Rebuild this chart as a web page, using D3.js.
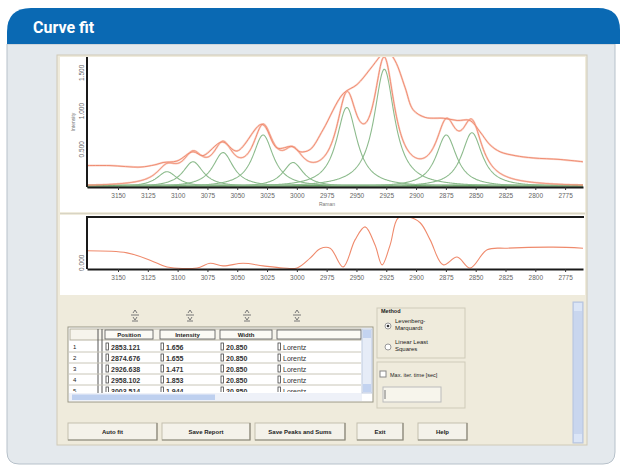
<!DOCTYPE html>
<html>
<head>
<meta charset="utf-8">
<script src="https://cdn.jsdelivr.net/npm/d3@7"></script>
<style>
  body { margin: 0; background: #fff; }
  svg { display: block; font-family: "Liberation Sans", Arial, sans-serif; }
</style>
</head>
<body>
<div id="chart"></div>
<script>
// fitted peaks (Lorentz)
var peakPos = [2853.121, 2874.676, 2926.638, 2958.102, 3003.2, 3028.3, 3061.9, 3087.1, 3108.9];
var peakHeight = [0.71, 0.68, 1.54, 1.04, 0.32, 0.68, 0.45, 0.33, 0.20];
var peakWidth = [20.85, 20.85, 20.85, 20.85, 20.85, 20.85, 20.85, 20.85, 20.85];

// measured spectrum (upper orange line)
var dataWn = [3176, 3156.7, 3131.5, 3119, 3112.2, 3100.5, 3087.1, 3078.7, 3062.7, 3050.2, 3029.2, 3016.6,
  3004, 2997.3, 2988.9, 2978, 2961.2, 2949.5, 2938.6, 2930.2, 2925.2, 2917.6, 2909.2, 2902.5, 2892.4,
  2885.7, 2877.3, 2865.6, 2854.7, 2846.3, 2837.9, 2829.5, 2816.9, 2801.8, 2779.2, 2760];
var dataVal = [0.28, 0.28, 0.26, 0.29, 0.32, 0.34, 0.46, 0.41, 0.59, 0.47, 0.82, 0.51,
  0.53, 0.46, 0.49, 0.75, 1.22, 1.34, 1.54, 1.71, 1.80, 1.65, 1.30, 1.01, 0.91,
  0.90, 0.90, 0.87, 0.87, 0.72, 0.55, 0.46, 0.41, 0.38, 0.36, 0.33];

// residual panel
var resWn = [3176, 3142.4, 3123.1, 3108.9, 3083.7, 3072.8, 3061.9, 3045.1, 3028.3, 3011.6, 2999.8, 2988.9,
  2980.5, 2972.1, 2961.2, 2951.2, 2942.8, 2934.4, 2928.5, 2921.8, 2915.1, 2906.7, 2896.6, 2888.2,
  2877.3, 2865.6, 2854.7, 2840.4, 2823.6, 2785.1, 2760];
var resVal = [0.22, 0.18, 0.04, -0.09, -0.11, -0.02, -0.07, -0.02, -0.07, -0.11, -0.11, 0.08,
  0.26, 0.27, -0.09, 0.43, 0.68, 0.33, -0.05, 0.33, 0.85, 0.87, 0.76, 0.43,
  -0.05, 0.10, -0.11, 0.24, 0.27, 0.29, 0.27];

var xTicks = [3150, 3125, 3100, 3075, 3050, 3025, 3000, 2975, 2950, 2925, 2900, 2875, 2850, 2825, 2800, 2775];
var yTicks = [0.5, 1.0, 1.5];
var resTicks = [0];

// table rows
var tablePos = ["2853.121", "2874.676", "2926.638", "2958.102", "3003.514"];
var tableInt = ["1.656", "1.655", "1.471", "1.853", "1.944"];
var tableWidth = ["20.850", "20.850", "20.850", "20.850", "20.850"];
var tableShape = ["Lorentz", "Lorentz", "Lorentz", "Lorentz", "Lorentz"];
var tableHead = ["Position", "Intensity", "Width", ""];
var buttons = ["Auto fit", "Save Report", "Save Peaks and Sums", "Exit", "Help"];
var buttonX = [[68, 157], [162, 250], [255, 345], [357, 403], [418, 467]];

var W = 622, H = 472;
var svg = d3.select("#chart").append("svg").attr("width", W).attr("height", H);

// ---- panel frame ----
svg.append("path")
  .attr("d", "M7,44 L7,452 Q7,464 19,464 L603,464 Q615,464 615,452 L615,44 Z")
  .attr("fill", "#e4e9ed").attr("stroke", "#b7c1ca");
svg.append("path")
  .attr("d", "M7,44 L7,32 Q7,8 31,8 L598,8 Q620,8 620,30 L620,44 Z")
  .attr("fill", "#0a69b3");
svg.append("text").attr("x", 33).attr("y", 33)
  .attr("fill", "#fff").attr("font-size", 16).attr("font-weight", "bold")
  .attr("font-family", "Roboto, 'Liberation Sans', sans-serif")
  .text("Curve fit");

// ---- application window ----
svg.append("rect").attr("x", 57).attr("y", 55).attr("width", 530).attr("height", 390)
  .attr("fill", "#efebdc").attr("stroke", "#cfcab8");
svg.append("rect").attr("x", 60).attr("y", 57).attr("width", 525).attr("height", 155).attr("fill", "#fff");
svg.append("rect").attr("x", 60).attr("y", 215).attr("width", 525).attr("height", 80).attr("fill", "#fff");
svg.append("line").attr("x1", 60).attr("x2", 585).attr("y1", 213.5).attr("y2", 213.5).attr("stroke", "#d8d4c4");

// ---- scales ----
var x = d3.scaleLinear().domain([3176, 2760]).range([87, 583]);
var y = d3.scaleLinear().domain([0, 1.7]).range([187, 57]);
var yr = d3.scaleLinear().domain([-0.13, 0.87]).range([269, 217]);

svg.append("clipPath").attr("id", "clipMain")
  .append("rect").attr("x", 87).attr("y", 57).attr("width", 496).attr("height", 131);

var grid = d3.range(2760, 3176.5, 0.5);
function lorentz(i, w) {
  var d = (w - peakPos[i]) / (peakWidth[i] / 2);
  return peakHeight[i] / (1 + d * d);
}
var line = d3.line().x(function (d) { return x(d[0]); }).y(function (d) { return y(d[1]); });
var main = svg.append("g").attr("clip-path", "url(#clipMain)");

// green baseline
main.append("line").attr("x1", 87).attr("x2", 583).attr("y1", y(0) - 1.5).attr("y2", y(0) - 1.5)
  .attr("stroke", "#5f9f5f").attr("stroke-width", 2.2);

// single peaks
peakPos.forEach(function (p, i) {
  main.append("path")
    .datum(grid.map(function (w) { return [w, lorentz(i, w)]; }))
    .attr("d", line).attr("fill", "none")
    .attr("stroke", "#8dbb8d").attr("stroke-width", 1.1);
});

// sum of peaks
var fit = grid.map(function (w) {
  return [w, d3.sum(peakPos, function (p, i) { return lorentz(i, w); })];
});
main.append("path").datum(fit).attr("d", line).attr("fill", "none")
  .attr("stroke", "#f6b4a0").attr("stroke-width", 2).attr("opacity", 0.6);
main.append("path").datum(fit).attr("d", line).attr("fill", "none")
  .attr("stroke", "#ee8569").attr("stroke-width", 0.9);

// measured spectrum
var dline = d3.line().curve(d3.curveCatmullRom)
  .x(function (d) { return x(d[0]); }).y(function (d) { return y(d[1]); });
var meas = dataWn.map(function (w, i) { return [w, dataVal[i]]; });
main.append("path").datum(meas).attr("d", dline).attr("fill", "none")
  .attr("stroke", "#f6b4a0").attr("stroke-width", 2).attr("opacity", 0.6);
main.append("path").datum(meas).attr("d", dline).attr("fill", "none")
  .attr("stroke", "#ee8569").attr("stroke-width", 0.9);

// axes main
function styleAxis(g) {
  g.select(".domain").attr("stroke", "#1a1a1a").attr("stroke-width", 2);
  g.selectAll(".tick line").attr("stroke", "#333");
  g.selectAll(".tick text").attr("fill", "#666").attr("font-size", 6.5);
}
svg.append("g").attr("transform", "translate(0," + y(0) + ")")
  .call(d3.axisBottom(x).tickValues(xTicks).tickSize(3).tickSizeOuter(0).tickFormat(d3.format("d")))
  .call(styleAxis);
svg.append("g").attr("transform", "translate(87,0)")
  .call(d3.axisLeft(y).tickValues(yTicks).tickSize(0).tickSizeOuter(0).tickFormat(d3.format(".3f")))
  .call(styleAxis)
  .call(function (g) { g.select(".domain").attr("d", "M0,57V187"); })
  .selectAll(".tick text")
  .attr("transform", "rotate(-90)").attr("text-anchor", "middle").attr("x", 0).attr("dy", "-3px");
svg.append("text").attr("transform", "translate(75,122) rotate(-90)")
  .attr("text-anchor", "middle").attr("font-size", 5).attr("fill", "#777").text("Intensity");
svg.append("text").attr("x", 327).attr("y", 206).attr("text-anchor", "middle")
  .attr("font-size", 5).attr("fill", "#777").text("Raman");

// ---- residual panel ----
var rline = d3.line().curve(d3.curveCatmullRom)
  .x(function (d) { return x(d[0]); }).y(function (d) { return yr(d[1]); });
svg.append("path").datum(resWn.map(function (w, i) { return [w, resVal[i]]; }))
  .attr("d", rline).attr("fill", "none")
  .attr("stroke", "#ef8a6c").attr("stroke-width", 1.1);
svg.append("line").attr("x1", 86).attr("x2", 584).attr("y1", 217).attr("y2", 217)
  .attr("stroke", "#1a1a1a").attr("stroke-width", 2);
svg.append("g").attr("transform", "translate(0,269)")
  .call(d3.axisBottom(x).tickValues(xTicks).tickSize(3).tickSizeOuter(0).tickFormat(d3.format("d")))
  .call(styleAxis);
svg.append("g").attr("transform", "translate(87,0)")
  .call(d3.axisLeft(yr).tickValues(resTicks).tickSize(0).tickSizeOuter(0).tickFormat(d3.format(".3f")))
  .call(styleAxis)
  .call(function (g) { g.select(".domain").attr("d", "M0,217V269"); })
  .selectAll(".tick text")
  .attr("transform", "rotate(-90)").attr("text-anchor", "middle").attr("x", 0).attr("dy", "-3px");

// ---- controls ----
var ui = svg.append("g").attr("font-size", 6.5).attr("fill", "#222");

// small spin glyphs above table columns
[135, 190, 247, 297].forEach(function (cx) {
  var g = ui.append("g").attr("stroke", "#777").attr("fill", "none");
  g.append("line").attr("x1", cx - 4).attr("x2", cx + 4).attr("y1", 315).attr("y2", 315);
  g.append("path").attr("d", "M" + (cx - 2) + ",313 l2,-3 l2,3 M" + (cx - 2) + ",317 l2,3 l2,-3");
  g.append("line").attr("x1", cx - 3).attr("x2", cx + 3).attr("y1", 321).attr("y2", 321);
});

// table
var tx = 68, ty = 327;
ui.append("rect").attr("x", tx).attr("y", ty).attr("width", 305).attr("height", 75)
  .attr("fill", "#fff").attr("stroke", "#9a9786");
var cols = [[105, 153], [160, 215], [220, 272], [277, 361]];
ui.append("rect").attr("x", 70).attr("y", 329).attr("width", 291).attr("height", 11).attr("fill", "#f6f4ec")
  .attr("stroke", "#b5b1a0");
cols.forEach(function (c, i) {
  ui.append("rect").attr("x", c[0]).attr("y", 330).attr("width", c[1] - c[0]).attr("height", 9)
    .attr("fill", "#fbfaf5").attr("stroke", "#555").attr("stroke-width", 0.8);
  ui.append("text").attr("x", (c[0] + c[1]) / 2).attr("y", 337).attr("text-anchor", "middle")
    .attr("font-weight", "bold").attr("font-size", 6).text(tableHead[i]);
});
ui.append("line").attr("x1", 98).attr("x2", 98).attr("y1", 329).attr("y2", 393).attr("stroke", "#555");
ui.append("line").attr("x1", 102).attr("x2", 102).attr("y1", 329).attr("y2", 393).attr("stroke", "#555");
svg.append("clipPath").attr("id", "clipTable")
  .append("rect").attr("x", 69).attr("y", 340).attr("width", 293).attr("height", 52);
var rows = ui.append("g").attr("clip-path", "url(#clipTable)");
tablePos.forEach(function (p, i) {
  var ry = 341 + i * 11;
  rows.append("line").attr("x1", 69).attr("x2", 361).attr("y1", ry + 11).attr("y2", ry + 11).attr("stroke", "#c9c6b8");
  rows.append("text").attr("x", 73).attr("y", ry + 8).attr("font-size", 6).text(i + 1);
  [p, tableInt[i], tableWidth[i], tableShape[i]].forEach(function (v, j) {
    rows.append("rect").attr("x", cols[j][0] + 1).attr("y", ry + 2).attr("width", 2.5).attr("height", 7)
      .attr("fill", "none").attr("stroke", "#444").attr("stroke-width", 0.8);
    rows.append("text").attr("x", cols[j][0] + 6).attr("y", ry + 8.5).attr("font-size", 7)
      .attr("font-weight", j < 3 ? "bold" : "normal").attr("fill", "#333").text(v);
  });
});
// table scrollbars
ui.append("rect").attr("x", 69).attr("y", 393).attr("width", 293).attr("height", 8).attr("fill", "#eef1f8");
ui.append("rect").attr("x", 72).attr("y", 394.5).attr("width", 143).attr("height", 5.5).attr("fill", "#bed0ef");
ui.append("rect").attr("x", 362).attr("y", 329).attr("width", 10).attr("height", 64).attr("fill", "#e6ecf7")
  .attr("stroke", "#c0cbe0");
ui.append("rect").attr("x", 363).attr("y", 330).attr("width", 8).attr("height", 8).attr("fill", "#c3d3f0");
ui.append("rect").attr("x", 363).attr("y", 384).attr("width", 8).attr("height", 8).attr("fill", "#c3d3f0");

// method group
ui.append("rect").attr("x", 377).attr("y", 308).attr("width", 88).attr("height", 50)
  .attr("fill", "none").attr("stroke", "#cfcbb9");
ui.append("text").attr("x", 381).attr("y", 313).attr("font-weight", "bold").attr("font-size", 5.5).text("Method");
ui.append("circle").attr("cx", 388).attr("cy", 326).attr("r", 3).attr("fill", "#fff").attr("stroke", "#999");
ui.append("circle").attr("cx", 388).attr("cy", 326).attr("r", 1.3).attr("fill", "#333");
ui.append("text").attr("x", 395).attr("y", 323).attr("font-size", 6).text("Levenberg-");
ui.append("text").attr("x", 395).attr("y", 330).attr("font-size", 6).text("Marquardt");
ui.append("circle").attr("cx", 388).attr("cy", 347).attr("r", 3).attr("fill", "#fff").attr("stroke", "#999");
ui.append("text").attr("x", 395).attr("y", 344).attr("font-size", 6).text("Linear Least");
ui.append("text").attr("x", 395).attr("y", 351).attr("font-size", 6).text("Squares");

// max time group
ui.append("rect").attr("x", 377).attr("y", 362).attr("width", 88).attr("height", 46)
  .attr("fill", "none").attr("stroke", "#cfcbb9");
ui.append("rect").attr("x", 380).attr("y", 371).attr("width", 6).attr("height", 6)
  .attr("fill", "#fff").attr("stroke", "#888");
ui.append("text").attr("x", 390).attr("y", 377).attr("font-size", 5.5).text("Max. iter. time [sec]");
ui.append("rect").attr("x", 383).attr("y", 387).attr("width", 58).attr("height", 15)
  .attr("fill", "#f7f5ec").attr("stroke", "#bbb");
ui.append("line").attr("x1", 385).attr("x2", 385).attr("y1", 390).attr("y2", 399).attr("stroke", "#777");

// right scrollbar
ui.append("rect").attr("x", 573).attr("y", 302).attr("width", 10).attr("height", 141)
  .attr("fill", "#c9d6ee").attr("stroke", "#b4c2dd");
ui.append("rect").attr("x", 574).attr("y", 303).attr("width", 8).attr("height", 8).attr("fill", "#dbe5f6");
ui.append("rect").attr("x", 574).attr("y", 434).attr("width", 8).attr("height", 8).attr("fill", "#dbe5f6");

// buttons
buttons.forEach(function (b, i) {
  var bx = buttonX[i];
  ui.append("rect").attr("x", bx[0]).attr("y", 423).attr("width", bx[1] - bx[0]).attr("height", 17)
    .attr("fill", "#f4f2ea").attr("stroke", "#c3bfae");
  ui.append("path").attr("d", "M" + bx[0] + ",440 H" + bx[1] + " V423")
    .attr("fill", "none").attr("stroke", "#8a877a").attr("stroke-width", 1.2);
  ui.append("text").attr("x", (bx[0] + bx[1]) / 2).attr("y", 434).attr("text-anchor", "middle")
    .attr("font-weight", "bold").attr("font-size", 6).text(b);
});
</script>
</body>
</html>
